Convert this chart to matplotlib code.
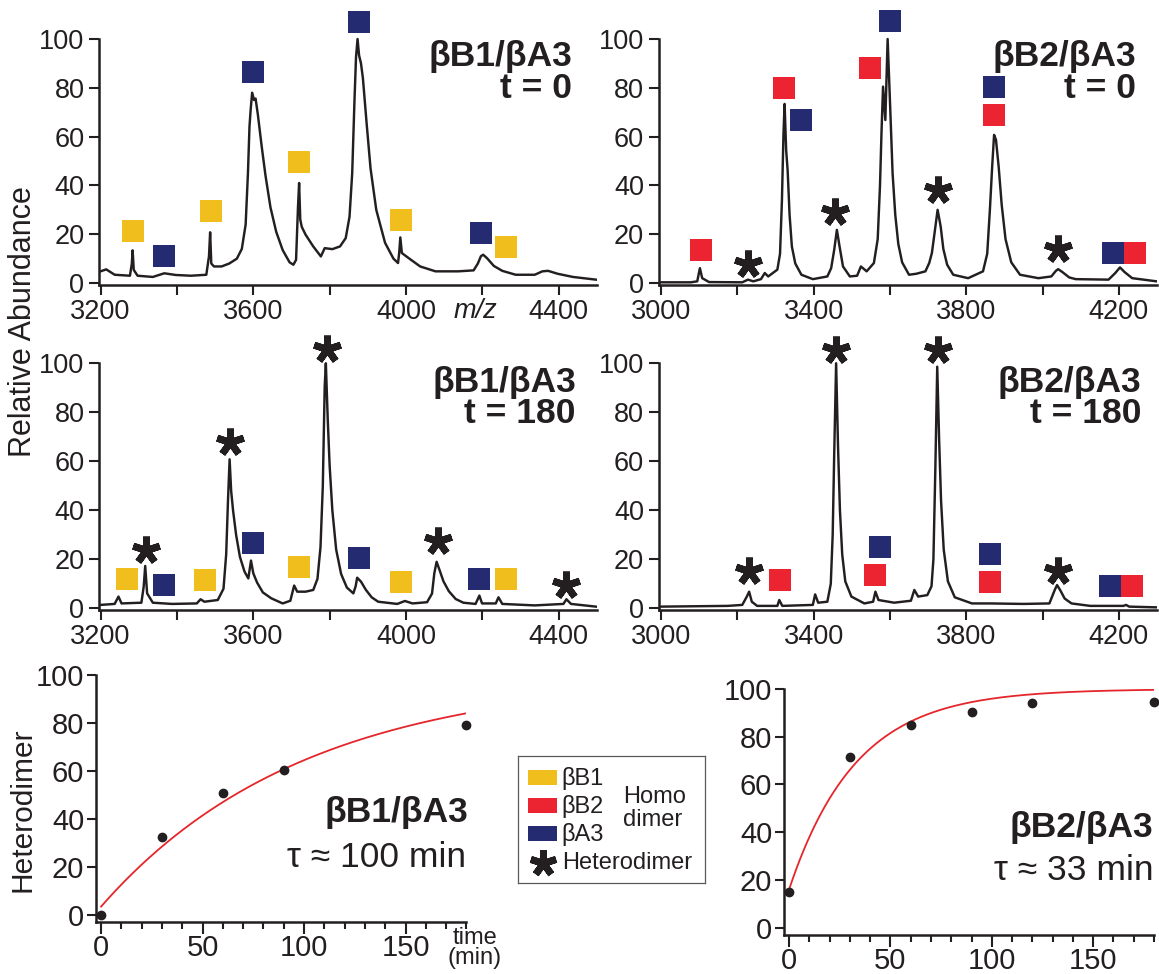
import numpy as np
import matplotlib
matplotlib.use("Agg")
import matplotlib.pyplot as plt
from matplotlib.patches import Rectangle
from matplotlib.ticker import FixedLocator

plt.rcParams['font.family'] = ['Liberation Sans', 'DejaVu Sans']

INK = '#231F20'
COLORS = {'B1': '#F1BF1D', 'B2': '#EC2330', 'A3': '#252B70'}
FIT_RED = '#E5262B'

# ---------------- mass spectra: (m/z, relative abundance) ----------------
b1a3_t0_trace = [
    (3200, 4.8), (3215, 5.6), (3237, 3.4), (3277, 3.0), (3282, 8), (3284, 13.4), (3287, 5.4),
    (3297, 3.0), (3337, 2.5), (3367, 4.0), (3397, 3.3), (3437, 3.0), (3477, 3.4), (3484, 11),
    (3487, 20.8), (3490, 8), (3497, 6.8), (3517, 6.8), (3537, 8), (3557, 10), (3570, 14),
    (3580, 24), (3586, 45), (3590, 64), (3593, 70.8), (3597, 78), (3602, 75), (3606, 75.6),
    (3612, 69), (3622, 56), (3632, 44), (3645, 31), (3660, 21), (3677, 13.5), (3695, 8.5),
    (3705, 7.5), (3712, 9.5), (3717, 31), (3720, 41), (3723, 26), (3727, 23), (3737, 19.8),
    (3757, 15), (3777, 10.9), (3787, 14.3), (3807, 13.9), (3827, 15), (3842, 18.4), (3852, 27.2),
    (3859, 45), (3865, 75), (3869, 92.6), (3873, 100), (3877, 93.3), (3882, 90), (3887, 84),
    (3897, 65), (3907, 47), (3922, 30), (3945, 16.5), (3967, 10), (3979, 8.2), (3982, 12.3),
    (3985, 18.7), (3989, 12.3), (4007, 10.2), (4037, 6.8), (4077, 4.8), (4137, 4.8), (4177, 5.2),
    (4188, 8), (4196, 11), (4202, 11.6), (4212, 10.2), (4230, 7), (4252, 5), (4287, 3.4),
    (4337, 3.4), (4357, 4.8), (4372, 5.0), (4397, 3.8), (4437, 2.5), (4497, 1.4),
]
b2a3_t0_trace = [
    (3000, 0.3), (3078, 0.3), (3095, 0.7), (3102, 6.1), (3108, 2), (3126, 0.4), (3213, 0.3),
    (3228, 1.4), (3242, 0.7), (3262, 1.6), (3272, 4.1), (3281, 2.7), (3305, 5.5), (3312, 12),
    (3317, 34), (3321, 61), (3324, 73.4), (3328, 54.6), (3332, 46), (3337, 28), (3343, 15),
    (3352, 8), (3368, 3.4), (3398, 1.6), (3436, 2.7), (3446, 6.1), (3454, 13.6), (3461, 21.8),
    (3468, 15), (3477, 6.8), (3495, 2.7), (3514, 3), (3524, 6.8), (3539, 4.8), (3558, 8.2),
    (3568, 18), (3574, 40), (3578, 62), (3582, 80.5), (3588, 66.8), (3594, 100), (3600, 75),
    (3607, 45), (3614, 28), (3622, 16), (3632, 8.5), (3650, 3.4), (3669, 3.8), (3693, 4.8),
    (3703, 8.2), (3710, 12.3), (3717, 20.5), (3725, 30), (3733, 23.2), (3740, 14), (3750, 7.5),
    (3766, 3.4), (3805, 2), (3844, 4.8), (3855, 12), (3862, 30), (3868, 47.7), (3873, 60.7),
    (3878, 58.7), (3885, 47.7), (3893, 32), (3903, 18), (3918, 8.5), (3941, 3.4), (3989, 2),
    (4023, 2.7), (4035, 5), (4041, 5.7), (4052, 4.5), (4070, 2.3), (4087, 1.6), (4173, 1.4),
    (4190, 4), (4203, 6.4), (4215, 4.5), (4235, 2), (4299, 0.7),
]
b1a3_t180_trace = [
    (3200, 1.4), (3237, 1.8), (3247, 4.8), (3255, 2), (3307, 2.3), (3313, 8.8), (3317, 17.3),
    (3322, 6.1), (3337, 2.3), (3387, 1.8), (3452, 2), (3462, 3.7), (3472, 2.7), (3507, 3.4),
    (3522, 8), (3529, 22), (3534, 45), (3538, 60.8), (3542, 48), (3547, 40), (3555, 30),
    (3565, 21), (3577, 15), (3587, 12.2), (3594, 19.5), (3600, 14.3), (3610, 10.5), (3625, 6.5),
    (3647, 4.1), (3677, 2), (3697, 3.1), (3707, 9.3), (3715, 6.8), (3737, 6.8), (3757, 7.5),
    (3768, 12), (3776, 25), (3782, 49.7), (3787, 90.5), (3790, 100), (3795, 76.9), (3800, 58),
    (3807, 40), (3817, 24), (3830, 14), (3845, 8.5), (3862, 6.1), (3868, 9), (3872, 12.5),
    (3882, 10.9), (3895, 7.5), (3910, 4.5), (3927, 2.7), (3977, 1.8), (3997, 3), (4017, 2),
    (4055, 2.5), (4068, 6), (4074, 14.3), (4080, 19), (4088, 15.5), (4098, 11), (4112, 7),
    (4130, 3.8), (4150, 2.3), (4182, 1.8), (4192, 5.2), (4199, 2), (4235, 2), (4242, 4.5),
    (4252, 1.8), (4337, 1.2), (4412, 1.8), (4420, 3.7), (4432, 1.8), (4497, 0.7),
]
b2a3_t180_trace = [
    (3000, 0.7), (3175, 1), (3213, 1.4), (3225, 4.8), (3231, 6.8), (3238, 2.7), (3252, 1),
    (3305, 1), (3310, 3.4), (3318, 1), (3398, 1.4), (3404, 5.7), (3412, 2.3), (3436, 2.7),
    (3445, 10), (3450, 30), (3454, 63), (3459, 100), (3464, 66), (3469, 40), (3475, 22),
    (3483, 11), (3499, 4.8), (3533, 2), (3556, 2.7), (3562, 6.8), (3570, 3.4), (3611, 2.3),
    (3655, 3.1), (3664, 7.5), (3674, 4.8), (3698, 5.4), (3709, 9), (3714, 20), (3719, 56.5),
    (3724, 98.6), (3729, 68.7), (3734, 44), (3741, 24), (3752, 11), (3770, 4.5), (3815, 2),
    (3863, 2), (3950, 1.8), (4018, 2), (4032, 7.5), (4038, 9.5), (4046, 7.5), (4058, 4),
    (4076, 2), (4125, 1), (4212, 1), (4219, 1.4), (4227, 0.7), (4299, 0.4),
]

# homodimer labels (species, m/z, height) and heterodimer labels (m/z, height)
b1a3_t0_homo = [('B1', 3284, 21.4), ('A3', 3367, 11.2), ('B1', 3488, 29.6), ('A3', 3600, 86.5),
                ('B1', 3720, 49.5), ('A3', 3877, 107), ('B1', 3987, 25.9), ('A3', 4197, 20.4),
                ('B1', 4262, 14.6)]
b1a3_t0_hetero = []
b2a3_t0_homo = [('B2', 3104, 13.7), ('B2', 3322, 80), ('A3', 3368, 67), ('B2', 3548, 88),
                ('A3', 3601, 107.5), ('A3', 3873, 80.5), ('B2', 3873, 69), ('A3', 4184, 12.3),
                ('B2', 4242, 12.3)]
b2a3_t0_hetero = [(3229, 7.7), (3455, 29), (3725, 38), (4040, 14)]
b1a3_t180_homo = [('B1', 3270, 11.8), ('A3', 3367, 9.5), ('B1', 3473, 11.6), ('A3', 3600, 26.8),
                  ('B1', 3720, 17), ('A3', 3877, 20.7), ('B1', 3987, 10.9), ('A3', 4190, 11.8),
                  ('B1', 4262, 11.8)]
b1a3_t180_hetero = [(3320, 23.8), (3540, 68), (3792, 106), (4083, 27.6), (4419, 9.5)]
b2a3_t180_homo = [('B2', 3313, 11.6), ('A3', 3575, 24.9), ('B2', 3562, 13.6), ('A3', 3863, 22),
                  ('B2', 3863, 10.6), ('A3', 4178, 9.1), ('B2', 4235, 9.1)]
b2a3_t180_hetero = [(3231, 15.4), (3459, 105.4), (3725, 105.4), (4040, 15.4)]

b1_xticks = [3200, 3400, 3600, 3800, 4000, 4200, 4400]
b1_xlabels = ['3200', '', '3600', '', '4000', '', '4400']
b2_xticks = [3000, 3200, 3400, 3600, 3800, 4000, 4200]
b2_xlabels = ['3000', '', '3400', '', '3800', '', '4200']
abund_ticks = [0, 20, 40, 60, 80, 100]

# ---------------- heterodimer formation kinetics ----------------
time_b1a3 = [0, 30, 60, 90, 180]
het_b1a3 = [0, 32.6, 51, 60.4, 79.3]
tau_b1a3, start_b1a3 = 100, 3.5
time_b2a3 = [0, 30, 60, 90, 120, 180]
het_b2a3 = [14.8, 71.4, 84.8, 90.2, 94, 94.4]
tau_b2a3, start_b2a3 = 33, 16
plateau = 100

legend_species = [('B1', 'βB1'), ('B2', 'βB2'), ('A3', 'βA3')]

W, H = 1159, 974
fig = plt.figure(figsize=(W / 100, H / 100), dpi=100)


def px_axes(left, top, right, bottom):
    return fig.add_axes([left / W, 1 - bottom / H, (right - left) / W, (bottom - top) / H])


def base_style(ax, xlim, ylim):
    ax.set_xlim(*xlim)
    ax.set_ylim(*ylim)
    ax.patch.set_alpha(0)
    for s in ('top', 'right'):
        ax.spines[s].set_visible(False)
    for s in ('left', 'bottom'):
        ax.spines[s].set_linewidth(1.8)
        ax.spines[s].set_color(INK)
    ax.spines['left'].set_bounds(ylim[0], 100)
    ax.set_yticks(abund_ticks)


def spectrum(ax, trace, homo, hetero, xlim, xticks, xlabels):
    ylim = (-0.8, 115)
    base_style(ax, xlim, ylim)
    mz, ab = zip(*trace)
    ax.plot(mz, ab, color=INK, lw=1.75, solid_joinstyle='round', zorder=2)
    for kind, x, y in homo:
        ax.plot(x, y, marker='s', ms=15.5, mew=0, color=COLORS[kind], clip_on=False, zorder=3)
    if hetero:
        hx, hy = zip(*hetero)
        ax.plot(hx, hy, ls='none', marker=(5, 2, 0), ms=20, mew=5, color=INK,
                clip_on=False, zorder=3)
    ax.set_xticks(xticks)
    ax.set_xticklabels(xlabels)
    ax.tick_params(direction='out', length=7.5, width=1.5, colors=INK, labelsize=19.5,
                   labelcolor=INK)
    ax.tick_params(axis='x', pad=2.5)
    ax.tick_params(axis='y', pad=3)


ax_tl = px_axes(99, 2.4, 597, 285)
spectrum(ax_tl, b1a3_t0_trace, b1a3_t0_homo, b1a3_t0_hetero, (3196, 4500), b1_xticks, b1_xlabels)
ax_tr = px_axes(658.7, 2.4, 1157, 285)
spectrum(ax_tr, b2a3_t0_trace, b2a3_t0_homo, b2a3_t0_hetero, (2994, 4300), b2_xticks, b2_xlabels)
ax_ml = px_axes(99, 326.5, 597, 610.3)
spectrum(ax_ml, b1a3_t180_trace, b1a3_t180_homo, b1a3_t180_hetero, (3196, 4500), b1_xticks, b1_xlabels)
ax_mr = px_axes(658.7, 326.5, 1157, 610.3)
spectrum(ax_mr, b2a3_t180_trace, b2a3_t180_homo, b2a3_t180_hetero, (2994, 4300), b2_xticks, b2_xlabels)

ax_tl.text(4181, -11.5, 'm/z', style='italic', fontsize=19.5, color=INK, ha='center', va='center')


def panel_title(x, base1, base2, line1, line2, size=25.5):
    fig.text(x / W, 1 - base1 / H, line1, ha='right', va='baseline', fontsize=size,
             fontweight='bold', color=INK)
    fig.text(x / W, 1 - base2 / H, line2, ha='right', va='baseline', fontsize=size,
             fontweight='bold', color=INK)


panel_title(572, 66, 98, 'βB1/βA3', 't = 0')
panel_title(1136, 66, 98, 'βB2/βA3', 't = 0')
panel_title(576, 392, 423, 'βB1/βA3', 't = 180')
panel_title(1141, 392, 423, 'βB2/βA3', 't = 180')

fig.text(23 / W, 1 - 322 / H, 'Relative Abundance', rotation=90, ha='center', va='center',
         fontsize=22, color=INK)


def kinetics(ax, t, y, tau, y0, ylim):
    base_style(ax, (-2.5, 180), ylim)
    tt = np.linspace(0, 180, 300)
    ax.plot(tt, plateau - (plateau - y0) * np.exp(-tt / tau), color=FIT_RED, lw=1.3, zorder=2)
    ax.plot(t, y, ls='none', marker='o', ms=6, color=INK, clip_on=False, zorder=3)
    ax.spines['bottom'].set_bounds(-2.5, 180)
    ax.xaxis.set_major_locator(FixedLocator([0, 50, 100, 150]))
    ax.xaxis.set_minor_locator(FixedLocator([v for v in range(10, 190, 10) if v % 50]))
    ax.tick_params(which='major', direction='out', width=1.5, colors=INK, labelsize=21,
                   labelcolor=INK)
    ax.tick_params(axis='y', length=6.5, pad=2)
    ax.tick_params(axis='x', which='major', length=8.6, pad=0)
    ax.tick_params(axis='x', which='minor', direction='out', length=5, width=1.5, colors=INK)


ax_bl = px_axes(96, 672.6, 466.4, 921.7)
kinetics(ax_bl, time_b1a3, het_b1a3, tau_b1a3, start_b1a3, (-2.8, 101))
ax_br = px_axes(784, 686.6, 1154, 935)
kinetics(ax_br, time_b2a3, het_b2a3, tau_b2a3, start_b2a3, (-3.06, 101))

fig.text(23 / W, 1 - 810 / H, 'Heterodimer', rotation=90, ha='center', va='center',
         fontsize=21.5, color=INK)
fig.text(475 / W, 1 - 927 / H, 'time\n(min)', ha='center', va='top', fontsize=17,
         linespacing=0.9, color=INK)

fig.text(468 / W, 1 - 822 / H, 'βB1/βA3', ha='right', va='baseline', fontsize=25.5,
         fontweight='bold', color=INK)
fig.text(466 / W, 1 - 867 / H, f'τ ≈ {tau_b1a3} min', ha='right', va='baseline', fontsize=25.5,
         color=INK)
fig.text(1153 / W, 1 - 837 / H, 'βB2/βA3', ha='right', va='baseline', fontsize=25.5,
         fontweight='bold', color=INK)
fig.text(1153 / W, 1 - 880 / H, f'τ ≈ {tau_b2a3} min', ha='right', va='baseline', fontsize=25.5,
         color=INK)

# legend box
lg = px_axes(518, 756, 705, 883)
lg.set_xlim(0, 187)
lg.set_ylim(127, 0)
lg.set_xticks([])
lg.set_yticks([])
for s in lg.spines.values():
    s.set_linewidth(0.9)
    s.set_color('#58595B')
for i, (kind, name) in enumerate(legend_species):
    yc = 21 + 28 * i
    lg.add_patch(Rectangle((10, yc - 7.5), 29, 15, color=COLORS[kind], lw=0))
    lg.text(43, yc + 1, name, ha='left', va='center', fontsize=17, color=INK)
lg.plot([25], [107], ls='none', marker=(5, 2, 0), ms=19, mew=5, color=INK)
lg.text(44, 107, 'Heterodimer', ha='left', va='center', fontsize=17, color=INK)
lg.text(137, 41, 'Homo', ha='center', va='center', fontsize=17, color=INK)
lg.text(135, 64, 'dimer', ha='center', va='center', fontsize=17, color=INK)

fig.savefig('out.png', dpi=100)
